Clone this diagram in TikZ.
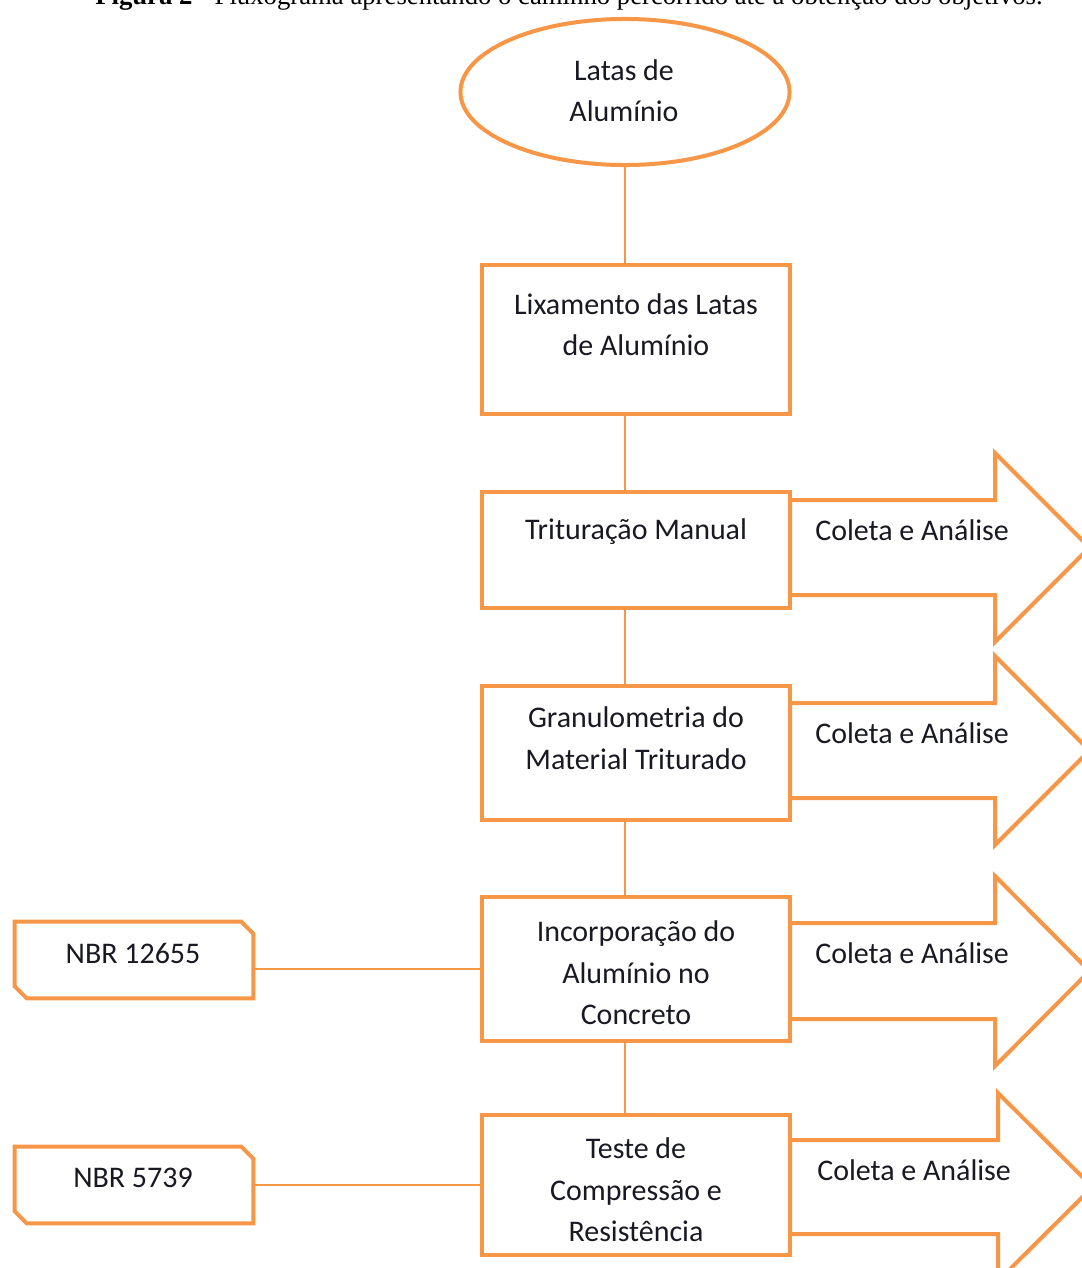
\documentclass[tikz,border=0pt]{standalone}
\usepackage{fontspec}
\setmainfont{Carlito}
\newfontfamily\capfont{Liberation Serif}
\usepackage{xcolor}
\usepackage{tikz}
\usetikzlibrary{shapes.geometric, positioning, calc}
\definecolor{myorange}{RGB}{247,150,70}
\definecolor{mydark}{RGB}{25,25,35}
\newcommand{\flowfont}{\fontsize{21.3}{29.5}\selectfont}
\tikzset{
  stepbox/.style={rectangle, draw=myorange, fill=white,
    line width=0.1cm, inner sep=0pt, minimum width=7.7cm},
  startnode/.style={ellipse, draw=myorange, fill=white,
    line width=0.1cm, inner sep=0pt, minimum width=8.225cm, minimum height=3.65cm},
  normbox/.style={rectangle, inner sep=0pt,
    minimum width=5.95cm, minimum height=1.9cm},
  normline/.style={draw=myorange, fill=white, line width=0.1cm, line join=miter},
  outarrow/.style={draw=myorange, fill=white, line width=0.1cm, line join=miter},
  boxtext/.style={align=center, inner sep=0pt, text=mydark, font=\flowfont},
  arrowtext/.style={anchor=west, inner sep=0pt, text=mydark, font=\flowfont},
  captext/.style={inner sep=0pt, text=black, font=\capfont\fontsize{19}{22}\selectfont},
  line/.style={draw=myorange, line width=0.05cm}
}
\begin{document}
\begin{tikzpicture}[x=0.025cm, y=-0.025cm]
  \useasboundingbox (0,0) rectangle (1081,1268);

  % Caption, cut by the top edge
  \node[captext, anchor=base] (caption) at (569,5)
    {\textbf{Figura 2} - Fluxograma apresentando o caminho percorrido até a obtenção dos objetivos.};

  % Output arrows (the boxes cover their tails)
  \draw[outarrow] (790,500) -- (995,500) -- (995,453) -- (1089.5,547.5)
    -- (995,642) -- (995,595) -- (790,595) -- cycle;
  \draw[outarrow] (790,703) -- (995,703) -- (995,656) -- (1089.5,750.5)
    -- (995,845) -- (995,798) -- (790,798) -- cycle;
  \draw[outarrow] (790,923) -- (995,923) -- (995,876) -- (1089.5,971)
    -- (995,1066) -- (995,1019) -- (790,1019) -- cycle;
  \draw[outarrow] (790,1140) -- (998,1140) -- (998,1093) -- (1092.5,1187)
    -- (998,1281) -- (998,1234) -- (790,1234) -- cycle;
  \node[arrowtext] (coleta1) at (815,530) {Coleta e Análise};
  \node[arrowtext] (coleta2) at (815,733) {Coleta e Análise};
  \node[arrowtext] (coleta3) at (815,953) {Coleta e Análise};
  \node[arrowtext] (coleta4) at (817,1170) {Coleta e Análise};

  % Main flow
  \node[startnode] (latas) at (625,92) {};
  \node[boxtext] (latastxt) at (624,90.5) {Latas de\\Alumínio};

  \node[stepbox, minimum height=3.725cm] (lixa) at (636,339.5) {};
  \node[boxtext] (lixatxt) at (636,324.5) {Lixamento das Latas\\de Alumínio};

  \node[stepbox, minimum height=2.9cm] (trit) at (636,550) {};
  \node[boxtext] (trittxt) at (636,532) {Trituração Manual};

  \node[stepbox, minimum height=3.35cm] (granu) at (636,753) {};
  \node[boxtext] (granutxt) at (636,738) {Granulometria do\\Material Triturado};

  \node[stepbox, minimum height=3.6cm] (incorp) at (636,969) {};
  \node[boxtext] (incorptxt) at (636,973) {Incorporação do\\Alumínio no\\Concreto};

  \node[stepbox, minimum height=3.5cm] (teste) at (636,1185) {};
  \node[boxtext] (testetxt) at (636,1190) {Teste de\\Compressão e\\Resistência};

  % Standards (snipped corners)
  \node[normbox] (nbra) at (134,960) {};
  \draw[normline] (nbra.north west) -- ([xshift=-0.3cm]nbra.north east)
    -- ([yshift=-0.3cm]nbra.north east) -- (nbra.south east)
    -- ([xshift=0.3cm]nbra.south west) -- ([yshift=0.3cm]nbra.south west) -- cycle;
  \node[boxtext] (nbratxt) at (133,953) {NBR 12655};
  \node[normbox] (nbrb) at (134,1185) {};
  \draw[normline] (nbrb.north west) -- ([xshift=-0.3cm]nbrb.north east)
    -- ([yshift=-0.3cm]nbrb.north east) -- (nbrb.south east)
    -- ([xshift=0.3cm]nbrb.south west) -- ([yshift=0.3cm]nbrb.south west) -- cycle;
  \node[boxtext] (nbrbtxt) at (133,1178) {NBR 5739};

  % Connectors
  \draw[line] (latas.south) -- (latas.south |- lixa.north);
  \draw[line] (latas.south |- lixa.south) -- (latas.south |- trit.north);
  \draw[line] (latas.south |- trit.south) -- (latas.south |- granu.north);
  \draw[line] (latas.south |- granu.south) -- (latas.south |- incorp.north);
  \draw[line] (latas.south |- incorp.south) -- (latas.south |- teste.north);
  \draw[line] (incorp.west -| nbra.east) -- (incorp.west);
  \draw[line] (teste.west -| nbrb.east) -- (teste.west);
\end{tikzpicture}
\end{document}
